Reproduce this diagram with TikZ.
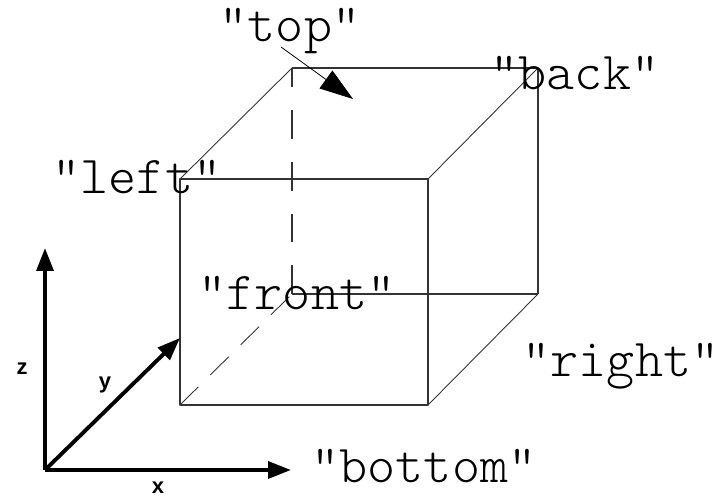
\documentclass[tikz,border=0pt]{standalone}
\usepackage{fontspec}
\setmainfont{Liberation Sans}
\usetikzlibrary{arrows.meta}
\tikzset{
    edge/.style={line width=0.65pt, black!80},
    hiddenup/.style={edge, dash pattern=on 16.4pt off 13pt},
    hiddenin/.style={edge, line width=0.5pt, dash pattern=on 14.7pt off 9.6pt},
    axis/.style={line width=2.2pt, -{Triangle[length=13pt, width=9.5pt]}},
    face/.style={font=\ttfamily\fontseries{l}\fontsize{30.4}{32}\selectfont, inner sep=0pt, anchor=base},
    axlabel/.style={font=\bfseries\fontsize{12.5}{13}\selectfont, inner sep=0pt, anchor=base}
}

\begin{document}
\begin{tikzpicture}[x=0.02cm, y=-0.02cm, line join=round]

    \useasboundingbox (0,0) rectangle (718,496);

    % Corners of the box, front face then back face
    \coordinate (FTL) at (180,179);
    \coordinate (FTR) at (428,179);
    \coordinate (FBR) at (428,405);
    \coordinate (FBL) at (180,405);
    \coordinate (BTL) at (292,68);
    \coordinate (BTR) at (538,68);
    \coordinate (BBR) at (538,294);
    \coordinate (BBL) at (292,294);

    % Axis ends
    \coordinate (O) at (45,470);
    \coordinate (Xend) at (291,470);
    \coordinate (Yend) at (180,338);
    \coordinate (Zend) at (45,248);

    % Visible edges
    \draw[edge] (FTL) -- (FTR) -- (FBR) -- (FBL) -- cycle;
    \draw[edge] (BTL) -- (BTR) -- (BBR);
    \draw[edge, line width=0.5pt] (FTL) -- (BTL);
    \draw[edge, line width=0.5pt] (FTR) -- (BTR);
    \draw[edge, line width=0.5pt] (FBR) -- (BBR);

    % Hidden edges
    \draw[hiddenup] (BBL) -- (BTL);
    \draw[hiddenin] (FBL) -- (BBL);
    \draw[edge] (BBL) -- (BBR);

    % Axes
    \draw[axis] (O) -- (Xend);
    \draw[axis] (O) -- (Yend);
    \draw[axis] (O) -- (Zend);

    % Labels
    \node[axlabel] (zlabel) at (22,375) {z};
    \node[axlabel] (ylabel) at (105,389) {y};
    \node[axlabel] (xlabel) at (158,494) {x};

    \node[face] (top) at (290,42) {"top"};
    \node[face] (back) at (575,90) {"back"};
    \node[face] (left) at (137,194) {"left"};
    \node[face] (front) at (297,310) {"front"};
    \node[face] (right) at (621,377) {"right"};
    \node[face] (bottom) at (424,483) {"bottom"};

    % Pointer from the top label into the box
    \coordinate (Tstart) at (281,47);
    \coordinate (Ttip) at (353,99);
    \draw[line width=0.45pt, -{Triangle[length=19pt, width=12.5pt]}] (Tstart) -- (Ttip);

\end{tikzpicture}
\end{document}
